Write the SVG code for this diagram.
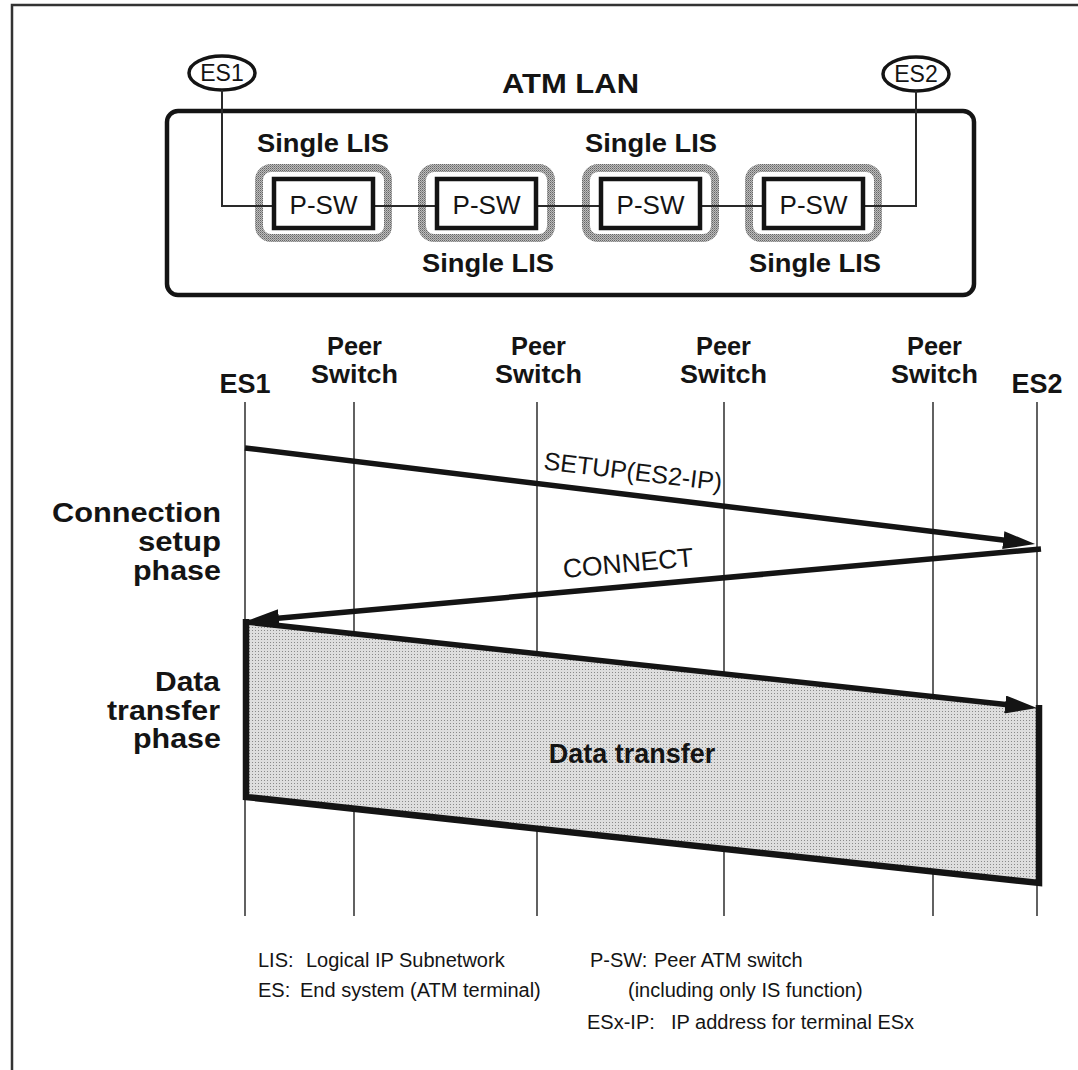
<svg xmlns="http://www.w3.org/2000/svg" width="1078" height="1070" viewBox="0 0 1078 1070">
<style>
  .b { font-family: "Liberation Sans", Arial, sans-serif; font-weight: bold; fill: #141414; }
  .r { font-family: "Liberation Sans", Arial, sans-serif; fill: #141414; }
  .lis { fill: none; stroke: url(#hatch); stroke-width: 8; }
  .psw { fill: #fff; stroke: #141414; stroke-width: 4.5; }
  .thin { fill: none; stroke: #2a2a2a; stroke-width: 2; }
  .life { stroke: #3a3a3a; stroke-width: 1.6; }
  .arr { stroke: #141414; stroke-width: 5.5; fill: none; marker-end: url(#ah); }
  .es { fill: #fff; stroke: #141414; stroke-width: 3.5; }
</style>
<defs>
  <pattern id="hatch" patternUnits="userSpaceOnUse" width="2" height="2">
    <rect width="2" height="2" fill="#bcbcbc"/>
    <rect width="1" height="1" fill="#666"/>
    <rect x="1" y="1" width="1" height="1" fill="#8a8a8a"/>
  </pattern>
  <pattern id="dots" patternUnits="userSpaceOnUse" width="3" height="3">
    <rect width="3" height="3" fill="#dedede"/>
    <rect width="1" height="1" fill="#8a8a8a"/>
  </pattern>
  <marker id="ah" markerUnits="userSpaceOnUse" markerWidth="32" markerHeight="18" viewBox="0 0 32 18" refX="12" refY="9" orient="auto">
    <path d="M0,0 L32,9 L0,18 z" fill="#141414"/>
  </marker>
</defs>
<rect width="1078" height="1070" fill="#fff"/>
<path d="M12,1070 V5 H1078" fill="none" stroke="#333" stroke-width="2.5"/>

<g id="atm-lan">
  <rect x="167" y="111" width="807" height="184" rx="11" fill="none" stroke="#141414" stroke-width="4.5"/>
  <text class="b" x="502" y="93" font-size="28" textLength="137" lengthAdjust="spacingAndGlyphs">ATM LAN</text>
</g>

<g id="es1-node">
  <ellipse class="es" cx="222" cy="73" rx="33" ry="17"/>
  <text class="r" x="222" y="81" font-size="23" text-anchor="middle">ES1</text>
</g>
<g id="es2-node">
  <ellipse class="es" cx="916" cy="74" rx="33" ry="17"/>
  <text class="r" x="916" y="82" font-size="23" text-anchor="middle">ES2</text>
</g>

<g id="lis1">
  <rect class="lis" x="259" y="168" width="129" height="70" rx="12"/>
  <text class="b" x="257" y="152" font-size="26" textLength="132" lengthAdjust="spacingAndGlyphs">Single LIS</text>
</g>
<g id="lis2">
  <rect class="lis" x="422" y="168" width="129" height="70" rx="12"/>
  <text class="b" x="422" y="272" font-size="26" textLength="132" lengthAdjust="spacingAndGlyphs">Single LIS</text>
</g>
<g id="lis3">
  <rect class="lis" x="586" y="168" width="129" height="70" rx="12"/>
  <text class="b" x="585" y="152" font-size="26" textLength="132" lengthAdjust="spacingAndGlyphs">Single LIS</text>
</g>
<g id="lis4">
  <rect class="lis" x="749" y="168" width="129" height="70" rx="12"/>
  <text class="b" x="749" y="272" font-size="26" textLength="132" lengthAdjust="spacingAndGlyphs">Single LIS</text>
</g>

<g id="connectors-top">
  <polyline class="thin" points="222,90 222,206 274,206"/>
  <line class="thin" x1="373" y1="206" x2="437" y2="206"/>
  <line class="thin" x1="536" y1="206" x2="601" y2="206"/>
  <line class="thin" x1="700" y1="206" x2="764" y2="206"/>
  <polyline class="thin" points="863,206 916,206 916,91"/>
</g>

<g id="psw1">
  <rect class="psw" x="274" y="179" width="99" height="49"/>
  <text class="r" x="323.5" y="214" font-size="26" text-anchor="middle">P-SW</text>
</g>
<g id="psw2">
  <rect class="psw" x="437" y="179" width="99" height="49"/>
  <text class="r" x="486.5" y="214" font-size="26" text-anchor="middle">P-SW</text>
</g>
<g id="psw3">
  <rect class="psw" x="601" y="179" width="99" height="49"/>
  <text class="r" x="650.5" y="214" font-size="26" text-anchor="middle">P-SW</text>
</g>
<g id="psw4">
  <rect class="psw" x="764" y="179" width="99" height="49"/>
  <text class="r" x="813.5" y="214" font-size="26" text-anchor="middle">P-SW</text>
</g>

<g id="lifeline-labels">
  <text class="b" x="245" y="393" font-size="27" text-anchor="middle">ES1</text>
  <text class="b" x="327" y="355" font-size="25" textLength="55" lengthAdjust="spacingAndGlyphs">Peer</text>
  <text class="b" x="311" y="383" font-size="25" textLength="87" lengthAdjust="spacingAndGlyphs">Switch</text>
  <text class="b" x="511" y="355" font-size="25" textLength="55" lengthAdjust="spacingAndGlyphs">Peer</text>
  <text class="b" x="495" y="383" font-size="25" textLength="87" lengthAdjust="spacingAndGlyphs">Switch</text>
  <text class="b" x="696" y="355" font-size="25" textLength="55" lengthAdjust="spacingAndGlyphs">Peer</text>
  <text class="b" x="680" y="383" font-size="25" textLength="87" lengthAdjust="spacingAndGlyphs">Switch</text>
  <text class="b" x="907" y="355" font-size="25" textLength="55" lengthAdjust="spacingAndGlyphs">Peer</text>
  <text class="b" x="891" y="383" font-size="25" textLength="87" lengthAdjust="spacingAndGlyphs">Switch</text>
  <text class="b" x="1037" y="393" font-size="27" text-anchor="middle">ES2</text>
</g>

<g id="phase-labels">
  <text class="b" x="52" y="522" font-size="28" textLength="169" lengthAdjust="spacingAndGlyphs">Connection</text>
  <text class="b" x="138" y="551" font-size="28" textLength="83" lengthAdjust="spacingAndGlyphs">setup</text>
  <text class="b" x="133" y="580" font-size="28" textLength="88" lengthAdjust="spacingAndGlyphs">phase</text>
  <text class="b" x="155" y="691" font-size="28" textLength="65" lengthAdjust="spacingAndGlyphs">Data</text>
  <text class="b" x="107" y="720" font-size="28" textLength="113" lengthAdjust="spacingAndGlyphs">transfer</text>
  <text class="b" x="133" y="748" font-size="28" textLength="88" lengthAdjust="spacingAndGlyphs">phase</text>
</g>

<g id="connectors">
  <line class="life" x1="245" y1="402" x2="245" y2="916"/>
  <line class="life" x1="354" y1="402" x2="354" y2="916"/>
  <line class="life" x1="537" y1="402" x2="537" y2="916"/>
  <line class="life" x1="724" y1="402" x2="724" y2="916"/>
  <line class="life" x1="933" y1="402" x2="933" y2="916"/>
  <line class="life" x1="1037" y1="402" x2="1037" y2="916"/>

  <line class="arr" x1="245" y1="448" x2="1015.2" y2="541.6"/>
  <text class="r" font-size="25" text-anchor="middle" transform="translate(632,480) rotate(6.9)">SETUP(ES2-IP)</text>

  <line class="arr" x1="1041" y1="549" x2="266.9" y2="619.2"/>
  <text class="r" font-size="26.5" text-anchor="middle" transform="translate(629,572) rotate(-5.2)">CONNECT</text>
</g>

<g id="data-transfer">
  <polygon points="246,622 1039,708 1039,883 246,797" fill="url(#dots)"/>
  <polyline points="246,619 246,797 1039,883 1039,705" fill="none" stroke="#141414" stroke-width="6.5"/>
  <line class="arr" x1="246" y1="622" x2="1017.1" y2="705.8" stroke-width="6"/>
  <text class="b" x="632" y="763" font-size="27" text-anchor="middle">Data transfer</text>
</g>

<g id="legend">
  <text class="r" x="258" y="967" font-size="20">LIS:</text>
  <text class="r" x="306" y="967" font-size="20">Logical IP Subnetwork</text>
  <text class="r" x="258" y="997" font-size="20">ES:</text>
  <text class="r" x="300" y="997" font-size="20">End system (ATM terminal)</text>
  <text class="r" x="590" y="967" font-size="20">P-SW:</text>
  <text class="r" x="654" y="967" font-size="20">Peer ATM switch</text>
  <text class="r" x="628" y="997" font-size="20">(including only IS function)</text>
  <text class="r" x="587" y="1029" font-size="20">ESx-IP:</text>
  <text class="r" x="671" y="1029" font-size="20">IP address for terminal ESx</text>
</g>
</svg>
